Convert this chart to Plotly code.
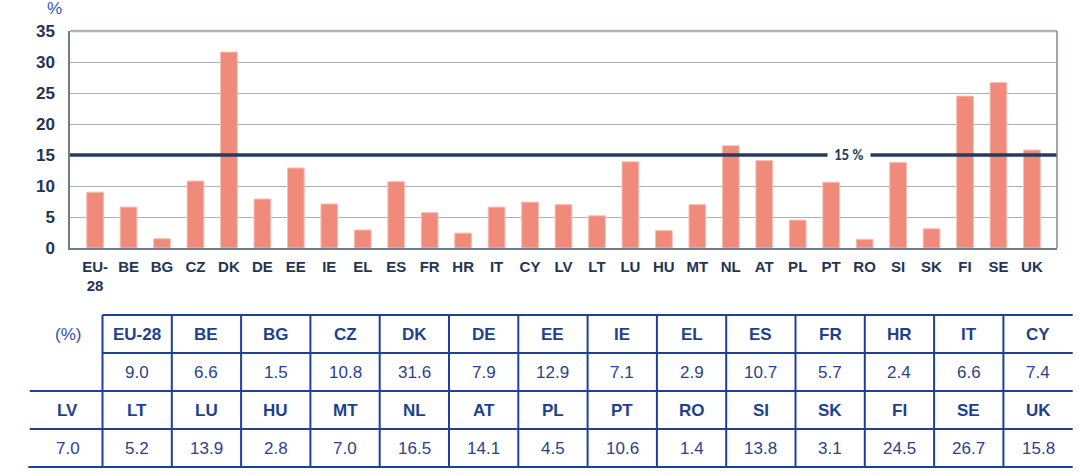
import plotly.graph_objects as go

categories = ["EU-28", "BE", "BG", "CZ", "DK", "DE", "EE", "IE", "EL", "ES", "FR", "HR", "IT", "CY",
              "LV", "LT", "LU", "HU", "MT", "NL", "AT", "PL", "PT", "RO", "SI", "SK", "FI", "SE", "UK"]
values = [9.0, 6.6, 1.5, 10.8, 31.6, 7.9, 12.9, 7.1, 2.9, 10.7, 5.7, 2.4, 6.6, 7.4,
          7.0, 5.2, 13.9, 2.8, 7.0, 16.5, 14.1, 4.5, 10.6, 1.4, 13.8, 3.1, 24.5, 26.7, 15.8]
tick_labels = ["EU-<br>28"] + categories[1:]
y_ticks = [0, 5, 10, 15, 20, 25, 30, 35]
target = 15
target_label = "15 %"

W, H = 1079, 474
navy = "#1F3554"
tblue = "#1F3F99"
bar_col = "#F08A7A"
narrow = "Liberation Sans Narrow, Arial Narrow, Liberation Sans, Arial"

fig = go.Figure()
fig.add_trace(go.Bar(
    x=categories, y=values, marker=dict(color=bar_col, line=dict(color="#F7BFB3", width=1)),
    xaxis="x", yaxis="y", hoverinfo="x+y", showlegend=False,
))

# hidden table axes (x2/y2): one unit per column / row
colw = 69.3
x0px = 33.2
rowh = 38.0
ybot = 467.0
x2range = [-x0px / colw, (W - x0px) / colw]
y2range = [-(H - ybot) / rowh, ybot / rowh]

shapes = []
shapes.append(dict(type="line", xref="x domain", yref="y", x0=0, x1=1, y0=target, y1=target,
                   line=dict(color="#243B5E", width=3.5), layer="above"))
n1 = 14
for c in range(1, 15):
    shapes.append(dict(type="line", xref="x2", yref="y2", x0=c, x1=c, y0=0, y1=4,
                       line=dict(color=tblue, width=2)))
for r, xs in [(4, 1), (3, 1), (2, -0.05), (1, -0.05), (0, -0.07)]:
    shapes.append(dict(type="line", xref="x2", yref="y2", x0=xs, x1=15.0, y0=r, y1=r,
                       line=dict(color=tblue, width=2)))

px_l, px_r, px_t, px_b = 70, 1057, 31, 248
shapes += [
    dict(type="line", xref="paper", yref="paper", x0=px_l / W, x1=px_r / W,
         y0=1 - px_t / H, y1=1 - px_t / H, line=dict(color="#AEB7BA", width=2.5)),
    dict(type="line", xref="paper", yref="paper", x0=px_r / W, x1=px_r / W,
         y0=1 - px_b / H, y1=1 - px_t / H, line=dict(color="#7F8A96", width=1.5)),
]

annotations = []
annotations.append(dict(text=target_label, x=categories[22], y=target, xref="x", yref="y",
                        xanchor="center", yanchor="middle", showarrow=False, xshift=18,
                        font=dict(family="Carlito, Open Sans, Arial", size=15, color="#243B5E", weight="bold"),
                        bgcolor="white", borderpad=6))
annotations.append(dict(text="%", x=54 / W, y=1 - 8 / H, xref="paper", yref="paper", showarrow=False,
                        xanchor="center", yanchor="middle",
                        font=dict(family="Liberation Sans, Arial", size=17, color="#3355CC")))
tfont_b = dict(family="Liberation Sans, Arial", size=17, color="#1F3F8F", weight="bold")
tfont = dict(family="Liberation Sans, Arial", size=17, color="#2B3F8C")
annotations.append(dict(text="(%)", x=0.5, y=3.5, xref="x2", yref="y2", showarrow=False,
                        font=dict(family="Liberation Sans, Arial", size=17, color="#3050B0")))
for i in range(n1):
    annotations.append(dict(text=categories[i], x=i + 1.5, y=3.5, xref="x2", yref="y2",
                            showarrow=False, font=tfont_b))
    annotations.append(dict(text=f"{values[i]:.1f}", x=i + 1.5, y=2.5, xref="x2", yref="y2",
                            showarrow=False, font=tfont))
for j, i in enumerate(range(n1, len(categories))):
    annotations.append(dict(text=categories[i], x=j + 0.5, y=1.5, xref="x2", yref="y2",
                            showarrow=False, font=tfont_b))
    annotations.append(dict(text=f"{values[i]:.1f}", x=j + 0.5, y=0.5, xref="x2", yref="y2",
                            showarrow=False, font=tfont))

fig.update_layout(
    template="none",
    width=W, height=H, margin=dict(l=0, r=0, t=0, b=0, pad=0, autoexpand=False),
    paper_bgcolor="white", plot_bgcolor="rgba(0,0,0,0)",
    bargap=0.5, showlegend=False,
    xaxis=dict(domain=[px_l / W, px_r / W], anchor="y", tickmode="array",
               range=[-0.75, len(categories) - 0.25],
               tickvals=categories, ticktext=tick_labels, automargin=False,
               tickfont=dict(family=narrow, size=15, color=navy, weight="bold"),
               showline=True, linecolor="#6E7C8C", linewidth=1.5, mirror=False,
               ticks="", showgrid=False, fixedrange=True, ticklabelstandoff=4),
    yaxis=dict(domain=[1 - px_b / H, 1 - px_t / H], anchor="x", range=[0, 35], automargin=False,
               tickmode="array", tickvals=y_ticks,
               tickfont=dict(family=narrow, size=17, color=navy, weight="bold"),
               showgrid=True, gridcolor="#A9B1B8", gridwidth=1,
               showline=True, linecolor="#6E7C8C", linewidth=1.5, zeroline=False,
               ticks="", ticklabelstandoff=10, fixedrange=True),
    xaxis2=dict(domain=[0, 1], anchor="y2", range=x2range, visible=False, fixedrange=True,
                automargin=False),
    yaxis2=dict(domain=[0, 1], anchor="x2", range=y2range, visible=False, fixedrange=True,
                automargin=False),
    shapes=shapes,
    annotations=annotations,
)
fig.write_html("out.html", config={"displayModeBar": False},
               post_script="document.body.style.margin='0';document.body.style.overflow='hidden';")
